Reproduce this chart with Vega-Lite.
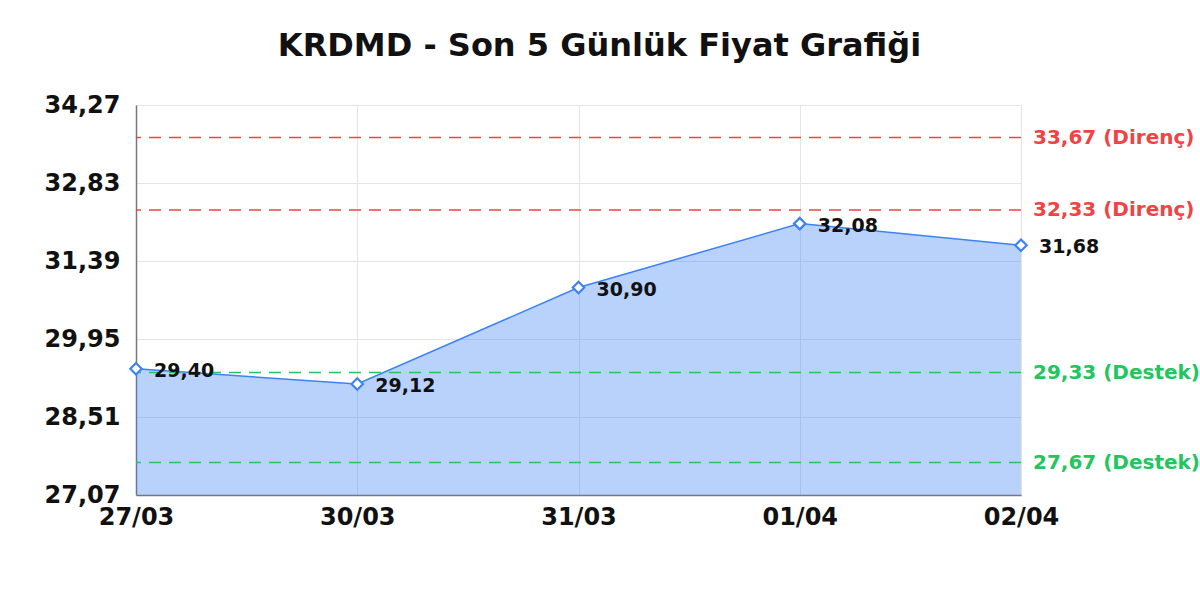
{
  "$schema": "https://vega.github.io/schema/vega-lite/v6.json",
  "width": 885,
  "height": 390,
  "autosize": {"type": "none"},
  "padding": {"left": 136, "top": 105, "right": 179, "bottom": 105},
  "background": "white",
  "title": {
    "text": "KRDMD - Son 5 Günlük Fiyat Grafiği",
    "font": "DejaVu Sans",
    "fontSize": 32,
    "fontWeight": "bold",
    "color": "#111111",
    "anchor": "middle",
    "dx": 21,
    "offset": 30
  },
  "datasets": {
    "prices": [
      {"date": "27/03", "price": 29.40},
      {"date": "30/03", "price": 29.12},
      {"date": "31/03", "price": 30.90},
      {"date": "01/04", "price": 32.08},
      {"date": "02/04", "price": 31.68}
    ],
    "levels": [
      {"date": "02/04", "level": 33.67, "kind": "Direnç", "label": "33,67 (Direnç)"},
      {"date": "02/04", "level": 32.33, "kind": "Direnç", "label": "32,33 (Direnç)"},
      {"date": "02/04", "level": 29.33, "kind": "Destek", "label": "29,33 (Destek)"},
      {"date": "02/04", "level": 27.67, "kind": "Destek", "label": "27,67 (Destek)"}
    ]
  },
  "layer": [
    {
      "data": {"name": "prices"},
      "mark": {"type": "area", "color": "#3b82f6", "opacity": 0.36, "line": false, "clip": true},
      "encoding": {
        "x": {
          "field": "date",
          "type": "ordinal",
          "sort": null,
          "scale": {"type": "point", "padding": 0},
          "axis": {
            "title": null,
            "labelAngle": 0,
            "labelFontSize": 24,
            "labelFontWeight": "bold",
            "labelColor": "#111111",
            "labelPadding": 10,
            "ticks": false,
            "grid": true,
            "gridColor": "#e4e4e4",
            "domainColor": "#777777",
            "domainWidth": 1.5
          }
        },
        "y": {
          "field": "price",
          "type": "quantitative",
          "scale": {"domain": [27.07, 34.27], "nice": false, "zero": false},
          "axis": {
            "title": null,
            "values": [27.07, 28.51, 29.95, 31.39, 32.83, 34.27],
            "format": ".2f",
            "labelFontSize": 24,
            "labelFontWeight": "bold",
            "labelColor": "#111111",
            "labelPadding": 16,
            "ticks": false,
            "grid": true,
            "gridColor": "#e4e4e4",
            "domainColor": "#777777",
            "domainWidth": 1.5
          }
        }
      }
    },
    {
      "data": {"name": "prices"},
      "mark": {"type": "line", "color": "#3b82f6", "strokeWidth": 1.5},
      "encoding": {
        "x": {"field": "date", "type": "ordinal", "sort": null},
        "y": {"field": "price", "type": "quantitative"}
      }
    },
    {
      "data": {"name": "levels"},
      "mark": {"type": "rule", "strokeDash": [12, 8], "strokeWidth": 1.5},
      "encoding": {
        "y": {"field": "level", "type": "quantitative"},
        "color": {
          "field": "kind",
          "type": "nominal",
          "scale": {"domain": ["Direnç", "Destek"], "range": ["#ef4444", "#22c55e"]},
          "legend": null
        }
      }
    },
    {
      "data": {"name": "levels"},
      "mark": {
        "type": "text",
        "align": "left",
        "baseline": "middle",
        "dx": 12,
        "fontSize": 20,
        "fontWeight": "bold"
      },
      "encoding": {
        "x": {"field": "date", "type": "ordinal", "sort": null},
        "y": {"field": "level", "type": "quantitative"},
        "text": {"field": "label", "type": "nominal"},
        "color": {"field": "kind", "type": "nominal", "legend": null}
      }
    },
    {
      "data": {"name": "prices"},
      "mark": {
        "type": "point",
        "shape": "diamond",
        "filled": true,
        "fill": "white",
        "stroke": "#3b82f6",
        "strokeWidth": 2.2,
        "size": 130,
        "opacity": 1
      },
      "encoding": {
        "x": {"field": "date", "type": "ordinal", "sort": null},
        "y": {"field": "price", "type": "quantitative"}
      }
    },
    {
      "data": {"name": "prices"},
      "mark": {
        "type": "text",
        "align": "left",
        "baseline": "middle",
        "dx": 18,
        "dy": 2,
        "fontSize": 19,
        "fontWeight": "bold",
        "color": "#111111"
      },
      "encoding": {
        "x": {"field": "date", "type": "ordinal", "sort": null},
        "y": {"field": "price", "type": "quantitative"},
        "text": {"field": "price", "type": "quantitative", "format": ".2f"}
      }
    }
  ],
  "config": {
    "font": "DejaVu Sans",
    "view": {"stroke": null},
    "locale": {
      "number": {
        "decimal": ",",
        "thousands": ".",
        "grouping": [3],
        "currency": ["", " TL"]
      }
    }
  }
}
